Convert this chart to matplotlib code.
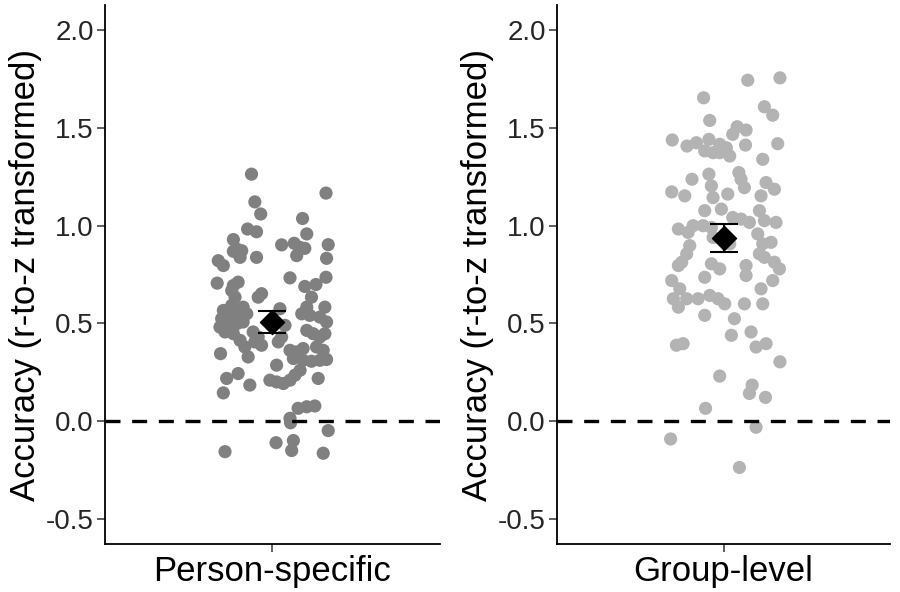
import matplotlib
matplotlib.use("Agg")
import matplotlib.pyplot as plt
import numpy as np

plt.rcParams['font.family'] = ['Liberation Sans', 'DejaVu Sans']

# conditions
conditions = ['Person-specific', 'Group-level']
point_colors = ['#808080', '#b3b3b3']

# person-specific accuracy (r-to-z) and horizontal jitter
person_vals = [1.264, 1.167, 1.122, 1.060, 1.037, 0.983, 0.969, 0.958, 0.929, 0.902,
               0.910, 0.889, 0.884, 0.847, 0.903, 0.881, 0.872, 0.869, 0.838, 0.838,
               0.821, 0.796, 0.833, 0.733, 0.736, 0.706, 0.711, 0.694, 0.668, 0.634,
               0.689, 0.699, 0.634, 0.652, 0.634, 0.566, 0.592, 0.583, 0.524, 0.532,
               0.541, 0.549, 0.481, 0.490, 0.498, 0.507, 0.456, 0.447, 0.413, 0.379,
               0.328, 0.345, 0.456, 0.430, 0.405, 0.388, 0.575, 0.490, 0.430, 0.405,
               0.286, 0.583, 0.583, 0.549, 0.541, 0.532, 0.507, 0.464, 0.447, 0.430,
               0.447, 0.379, 0.362, 0.362, 0.354, 0.371, 0.320, 0.311, 0.306, 0.311,
               0.315, 0.260, 0.235, 0.209, 0.192, 0.200, 0.209, 0.218, 0.218, 0.243,
               0.184, 0.144, 0.065, 0.073, 0.077, 0.014, -0.009, -0.049, -0.111, -0.100,
               -0.151, -0.157, -0.165]
person_jit = [-0.075, 0.192, -0.063, -0.042, 0.108, -0.089, -0.057, 0.123, -0.140, 0.033,
              0.078, 0.099, 0.116, 0.087, 0.200, -0.128, -0.110, -0.140, -0.116, -0.057,
              -0.194, -0.176, 0.194, 0.063, 0.192, -0.198, -0.123, -0.140, -0.146, -0.134,
              0.116, 0.156, 0.140, -0.039, -0.051, -0.176, -0.146, -0.105, -0.182, -0.152,
              -0.123, -0.092, -0.188, -0.158, -0.128, -0.105, -0.170, -0.140, -0.116, -0.099,
              -0.087, -0.186, -0.069, -0.051, -0.063, -0.039, 0.027, 0.045, 0.033, 0.021,
              0.015, 0.123, 0.188, 0.105, 0.134, 0.170, 0.194, 0.123, 0.146, 0.170,
              0.188, 0.158, 0.182, 0.063, 0.087, 0.110, 0.075, 0.110, 0.140, 0.170,
              0.194, 0.099, 0.081, 0.063, 0.039, 0.015, -0.009, 0.164, -0.164, -0.123,
              -0.081, -0.176, 0.092, 0.123, 0.152, 0.063, 0.065, 0.200, 0.013, 0.075,
              0.069, -0.170, 0.182]

# group-level accuracy (r-to-z) and horizontal jitter
group_vals = [1.745, 1.757, 1.655, 1.609, 1.566, 1.539, 1.507, 1.490, 1.468, 1.439,
              1.408, 1.425, 1.442, 1.417, 1.399, 1.383, 1.374, 1.374, 1.357, 1.413,
              1.420, 1.340, 1.264, 1.204, 1.144, 1.238, 1.272, 1.238, 1.195, 1.221,
              1.187, 1.173, 1.153, 1.162, 1.153, 1.077, 1.085, 1.077, 1.026, 1.017,
              0.983, 0.966, 1.000, 1.000, 0.991, 1.042, 1.034, 1.017, 0.958, 0.907,
              0.915, 0.940, 0.898, 0.856, 0.813, 0.796, 0.907, 0.856, 0.838, 0.805,
              0.779, 0.736, 0.796, 0.745, 0.813, 0.779, 0.719, 0.719, 0.677, 0.677,
              0.626, 0.583, 0.626, 0.626, 0.643, 0.626, 0.600, 0.600, 0.600, 0.541,
              0.524, 0.439, 0.456, 0.388, 0.396, 0.379, 0.396, 0.303, 0.230, 0.184,
              0.141, 0.121, 0.065, -0.032, -0.092, -0.238]
group_jit = [0.087, 0.203, -0.072, 0.147, 0.177, -0.050, 0.049, 0.081, 0.033, -0.185,
             -0.132, -0.098, -0.053, -0.014, 0.010, -0.068, -0.038, -0.014, 0.022, 0.079,
             0.195, 0.141, -0.053, -0.044, -0.038, -0.114, 0.055, 0.063, 0.075, 0.153,
             0.183, -0.187, -0.140, 0.015, 0.135, -0.068, -0.008, 0.129, 0.147, 0.189,
             -0.163, -0.128, -0.110, -0.074, -0.044, 0.033, 0.063, 0.093, 0.123, 0.141,
             0.171, -0.038, -0.122, -0.133, -0.151, -0.163, 0.022, 0.129, 0.147, -0.044,
             -0.014, -0.068, 0.081, 0.081, 0.183, 0.201, 0.177, -0.187, -0.158, 0.135,
             -0.181, -0.163, -0.133, -0.092, -0.050, -0.020, 0.004, 0.075, 0.141, -0.068,
             0.039, 0.028, 0.099, -0.170, -0.146, 0.117, 0.153, 0.203, -0.014, 0.103,
             0.093, 0.151, -0.065, 0.117, -0.191, 0.057]

# means and 95% CI bounds
means = [0.505, 0.935]
ci_low = [0.452, 0.864]
ci_high = [0.563, 1.009]

yticks = [-0.5, 0.0, 0.5, 1.0, 1.5, 2.0]

fig = plt.figure(figsize=(9, 5.92), dpi=100)
axes = [fig.add_axes([0.1167, 0.081, 0.372, 0.9105]),
        fig.add_axes([0.619, 0.081, 0.370, 0.9105])]

all_vals = [person_vals, group_vals]
all_jit = [person_jit, group_jit]

for i, ax in enumerate(axes):
    x = 1 + np.array(all_jit[i])
    ax.scatter(x, all_vals[i], s=90, color=point_colors[i], edgecolors='none', zorder=2)
    ax.axhline(0, color='black', linewidth=2.4, linestyle=(0, (4.5, 3.5)), zorder=3)
    ax.errorbar([1], [means[i]],
                yerr=[[means[i] - ci_low[i]], [ci_high[i] - means[i]]],
                fmt='none', ecolor='black', elinewidth=1.5, capsize=10, capthick=1.5, zorder=4)
    ax.scatter([1], [means[i]], marker='D', s=150, color='black', zorder=5)
    ax.set_xlim(0.4, 1.6)
    ax.set_ylim(-0.63, 2.13)
    ax.set_xticks([1])
    ax.set_xticklabels([conditions[i]], fontsize=25, color='black')
    ax.set_yticks(yticks)
    ax.set_yticklabels([f'{t:.1f}' for t in yticks], fontsize=20, color='#262626')
    ax.set_ylabel('Accuracy (r-to-z transformed)', fontsize=25, color='black', labelpad=3)
    for s in ['top', 'right']:
        ax.spines[s].set_visible(False)
    for s in ['left', 'bottom']:
        ax.spines[s].set_linewidth(1.3)
    ax.tick_params(axis='both', length=6, width=1.1, color='#333333', pad=2)

fig.savefig('out.png', dpi=100)
